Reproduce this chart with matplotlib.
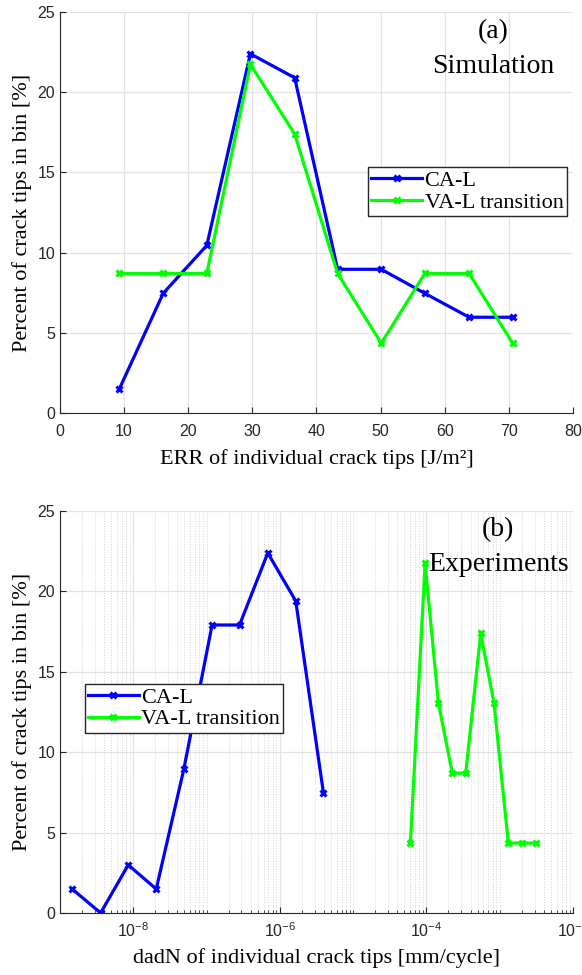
import matplotlib.pyplot as plt
from matplotlib.ticker import LogLocator, NullFormatter, FixedLocator

# (a) simulation: ERR bin centres [J/m^2] and share of crack tips [%]
err_bins = [9.25, 16.1, 22.9, 29.7, 36.6, 43.3, 50.1, 56.9, 63.8, 70.6]
sim_cal = [1.49, 7.46, 10.45, 22.39, 20.90, 8.96, 8.96, 7.46, 5.97, 5.97]
sim_val = [8.70, 8.70, 8.70, 21.74, 17.39, 8.70, 4.35, 8.70, 8.70, 4.35]

# (b) experiments: dadN bin centres [mm/cycle] and share of crack tips [%]
dadn_cal = [1.47e-9, 3.59e-9, 8.55e-9, 2.06e-8, 4.91e-8, 1.19e-7, 2.82e-7,
            6.85e-7, 1.65e-6, 3.94e-6]
exp_cal = [1.49, 0.0, 2.99, 1.49, 8.96, 17.91, 17.91, 22.39, 19.40, 7.46]
dadn_val = [6.05e-5, 9.6e-5, 1.46e-4, 2.26e-4, 3.44e-4, 5.51e-4, 8.38e-4,
            1.31e-3, 2.02e-3, 3.16e-3]
exp_val = [4.35, 21.74, 13.04, 8.70, 8.70, 17.39, 13.04, 4.35, 4.35, 4.35]

labels = ['CA-L', 'VA-L transition']
serif = 'Liberation Serif'
tick_col = '#262626'

plt.rcParams['mathtext.fontset'] = 'custom'
plt.rcParams['mathtext.rm'] = 'Liberation Sans'
plt.rcParams['mathtext.it'] = 'Liberation Sans:italic'
plt.rcParams['mathtext.bf'] = 'Liberation Sans:bold'

fig = plt.figure(figsize=(5.82, 9.75), dpi=100)
ax1 = fig.add_axes([0.103, 0.5764, 0.8815, 0.4113])
ax2 = fig.add_axes([0.103, 0.0636, 0.8815, 0.4123])

line_kw = dict(lw=2.3, marker='x', ms=5, mew=2.2)
leg_kw = dict(prop={'family': serif, 'size': 16}, fancybox=False,
              edgecolor='#262626', framealpha=1, borderpad=0.15,
              handlelength=2.3, handletextpad=0.1, labelspacing=0.05,
              borderaxespad=0, numpoints=1)

ax1.plot(err_bins, sim_cal, color='#0000ff', label=labels[0], **line_kw)
ax1.plot(err_bins, sim_val, color='#00ff00', label=labels[1], **line_kw)
ax1.set_xlim(0, 80)
ax1.set_ylim(0, 25)
ax1.set_xticks(range(0, 81, 10))
ax1.set_yticks(range(0, 26, 5))
ax1.set_xlabel('ERR of individual crack tips [J/m²]', fontsize=16,
               family=serif, labelpad=7)
ax1.set_ylabel('Percent of crack tips in bin [%]', fontsize=16, family=serif,
               labelpad=4)
ax1.text(0.844, 0.952, '(a)', transform=ax1.transAxes, ha='center', va='center',
         fontsize=20, family=serif)
ax1.text(0.844, 0.865, 'Simulation', transform=ax1.transAxes, ha='center',
         va='center', fontsize=20, family=serif)
ax1.legend(loc='upper right', bbox_to_anchor=(0.988, 0.613), **leg_kw)

ax2.plot(dadn_cal, exp_cal, color='#0000ff', label=labels[0], **line_kw)
ax2.plot(dadn_val, exp_val, color='#00ff00', label=labels[1], **line_kw)
ax2.set_xscale('log')
ax2.set_xlim(1e-9, 1e-2)
ax2.set_ylim(0, 25)
ax2.xaxis.set_major_locator(FixedLocator([1e-8, 1e-6, 1e-4, 1e-2]))
ax2.xaxis.set_minor_locator(LogLocator(base=10, subs=range(1, 10), numticks=20))
ax2.xaxis.set_minor_formatter(NullFormatter())
ax2.set_yticks(range(0, 26, 5))
ax2.set_xlabel('dadN of individual crack tips [mm/cycle]', fontsize=16,
               family=serif, labelpad=6)
ax2.set_ylabel('Percent of crack tips in bin [%]', fontsize=16, family=serif,
               labelpad=4)
ax2.text(0.854, 0.953, '(b)', transform=ax2.transAxes, ha='center', va='center',
         fontsize=20, family=serif)
ax2.text(0.854, 0.866, 'Experiments', transform=ax2.transAxes, ha='center',
         va='center', fontsize=20, family=serif)
ax2.legend(loc='upper left', bbox_to_anchor=(0.048, 0.57), **leg_kw)
ax2.grid(True, which='minor', axis='x', color='#d4d4d4', ls=':', lw=0.7)

for ax in (ax1, ax2):
    ax.grid(True, which='major', color='#e3e3e3', lw=0.9)
    ax.set_axisbelow(True)
    for s in ('top', 'right'):
        ax.spines[s].set_visible(False)
    for s in ('left', 'bottom'):
        ax.spines[s].set_color('#262626')
        ax.spines[s].set_linewidth(0.8)
    ax.tick_params(which='both', direction='in', colors=tick_col, labelsize=11.5)
    ax.tick_params(which='major', length=4)
    ax.tick_params(which='minor', length=2)
    for lab in ax.get_xticklabels() + ax.get_yticklabels():
        lab.set_family('Liberation Sans')

ax1.tick_params(axis='x', which='both', pad=8)
ax2.tick_params(axis='x', which='both', pad=6)

fig.savefig('out.png', dpi=100)
